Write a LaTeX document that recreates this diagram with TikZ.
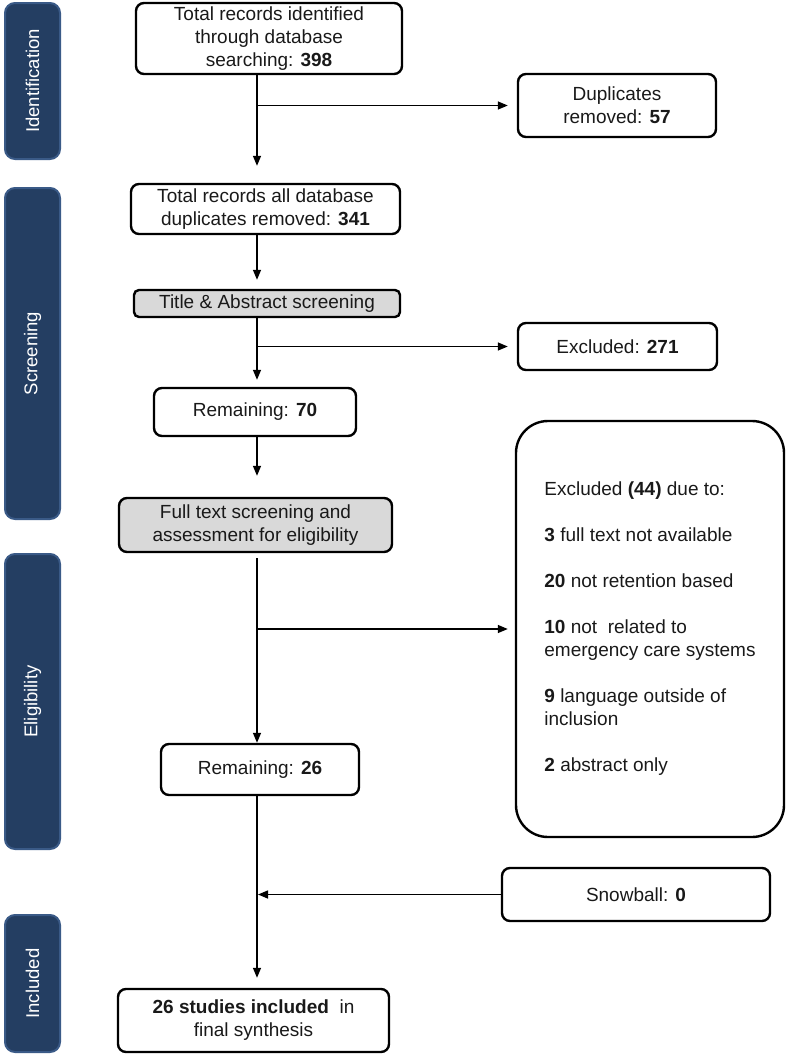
\documentclass[tikz,border=0pt]{standalone}
\usepackage{fontspec}
\setmainfont{Liberation Sans}
\usepackage{xcolor}
\usepackage{tikz}
\usetikzlibrary{positioning,arrows.meta,calc}

\definecolor{stagenavy}{HTML}{243E62}
\definecolor{stageedge}{HTML}{3A5A87}
\definecolor{screengray}{HTML}{D9D9D9}

\begin{document}
\begin{tikzpicture}[x=1pt, y=-1pt,
  every node/.style={font=\fontsize{19}{23}\selectfont, text=black!90},
  box/.style={draw, line width=2.4pt, rounded corners=8pt, align=center, inner sep=0pt},
  boxgray/.style={box, fill=screengray},
  stage/.style={draw=stageedge, fill=stagenavy, line width=2pt, rounded corners=10pt,
    rotate=90, minimum height=55pt, inner sep=0pt, text=white,
    font=\fontsize{18.5}{22}\selectfont},
  arr/.style={line width=1.4pt, -{Triangle[length=10pt,width=8pt]}}
]
\useasboundingbox (0,0) rectangle (786,1058);

% stage bars on the left
\foreach \nm/\yc/\len/\txt in {
  stIdent/81/156/Identification,
  stScreen/353.5/331/Screening,
  stElig/701.5/295/Eligibility,
  stIncl/983.5/137/Included
}{
  \node[stage, minimum width=\len pt] (\nm) at (32.5,\yc) {\txt};
}

% flow boxes
\node[box, minimum width=266pt, minimum height=71pt] (rec) at (269,38.5)
  {Total records identified\\through database\\searching: \textbf{398}};
\node[box, minimum width=198pt, minimum height=63pt] (dup) at (617,105.5)
  {Duplicates\\removed: \textbf{57}};
\node[box, minimum width=269pt, minimum height=50pt] (nodup) at (265.5,209)
  {Total records all database\\duplicates removed: \textbf{341}};
\node[boxgray, rounded corners=5pt, minimum width=266pt, minimum height=27pt] (title) at (267,303.5)
  {Title \& Abstract screening};
\node[box, minimum width=199pt, minimum height=47pt] (exa) at (617.5,346.5)
  {Excluded: \textbf{271}};
\node[box, minimum width=202pt, minimum height=48pt] (rem70) at (255,412)
  {Remaining: \textbf{70}};
\node[boxgray, minimum width=273pt, minimum height=54pt] (full) at (255.5,525)
  {Full text screening and\\assessment for eligibility};
\node[box, rounded corners=32pt, align=left, minimum width=268pt, minimum height=416pt] (exb) at (650,629)
  {Excluded \textbf{(44)} due to:\\[23pt]
   \textbf{3} full text not available\\[23pt]
   \textbf{20} not retention based\\[23pt]
   \textbf{10} not~ related to\\emergency care systems\\[23pt]
   \textbf{9} language outside of\\inclusion\\[23pt]
   \textbf{2} abstract only};
\node[box, minimum width=198pt, minimum height=51pt] (rem26) at (260,769.5)
  {Remaining: \textbf{26}};
\node[box, minimum width=268pt, minimum height=53pt] (snow) at (636,894.5)
  {Snowball: \textbf{0}};
\node[box, minimum width=271pt, minimum height=63pt] (incl) at (253.5,1020.5)
  {\textbf{26 studies included}~ in\\final synthesis};

% connectors
\coordinate (spine) at (257,0);
\draw[arr, shorten >=17pt] (rec.south -| spine) -- (nodup.north -| spine);
\draw[arr, shorten >=9pt] (rec.south -| spine) |- (dup.west);
\draw[arr, shorten >=9pt] (nodup.south -| spine) -- (title.north -| spine);
\draw[arr, shorten >=7pt] (title.south -| spine) -- (rem70.north -| spine);
\draw[arr, shorten >=9pt] (title.south -| spine) |- (exa.west);
\draw[arr, shorten >=21pt] (rem70.south -| spine) -- (full.north -| spine);
\draw[arr, shorten <=5pt] (full.south -| spine) -- (rem26.north -| spine);
\draw[arr, shorten <=5pt, shorten >=7pt] (full.south -| spine) |- (exb.west);
\draw[arr, shorten >=10pt] (rem26.south -| spine) -- (incl.north -| spine);
\draw[arr, shorten >=1pt] (snow.west) -- (snow.west -| spine);
\end{tikzpicture}
\end{document}
